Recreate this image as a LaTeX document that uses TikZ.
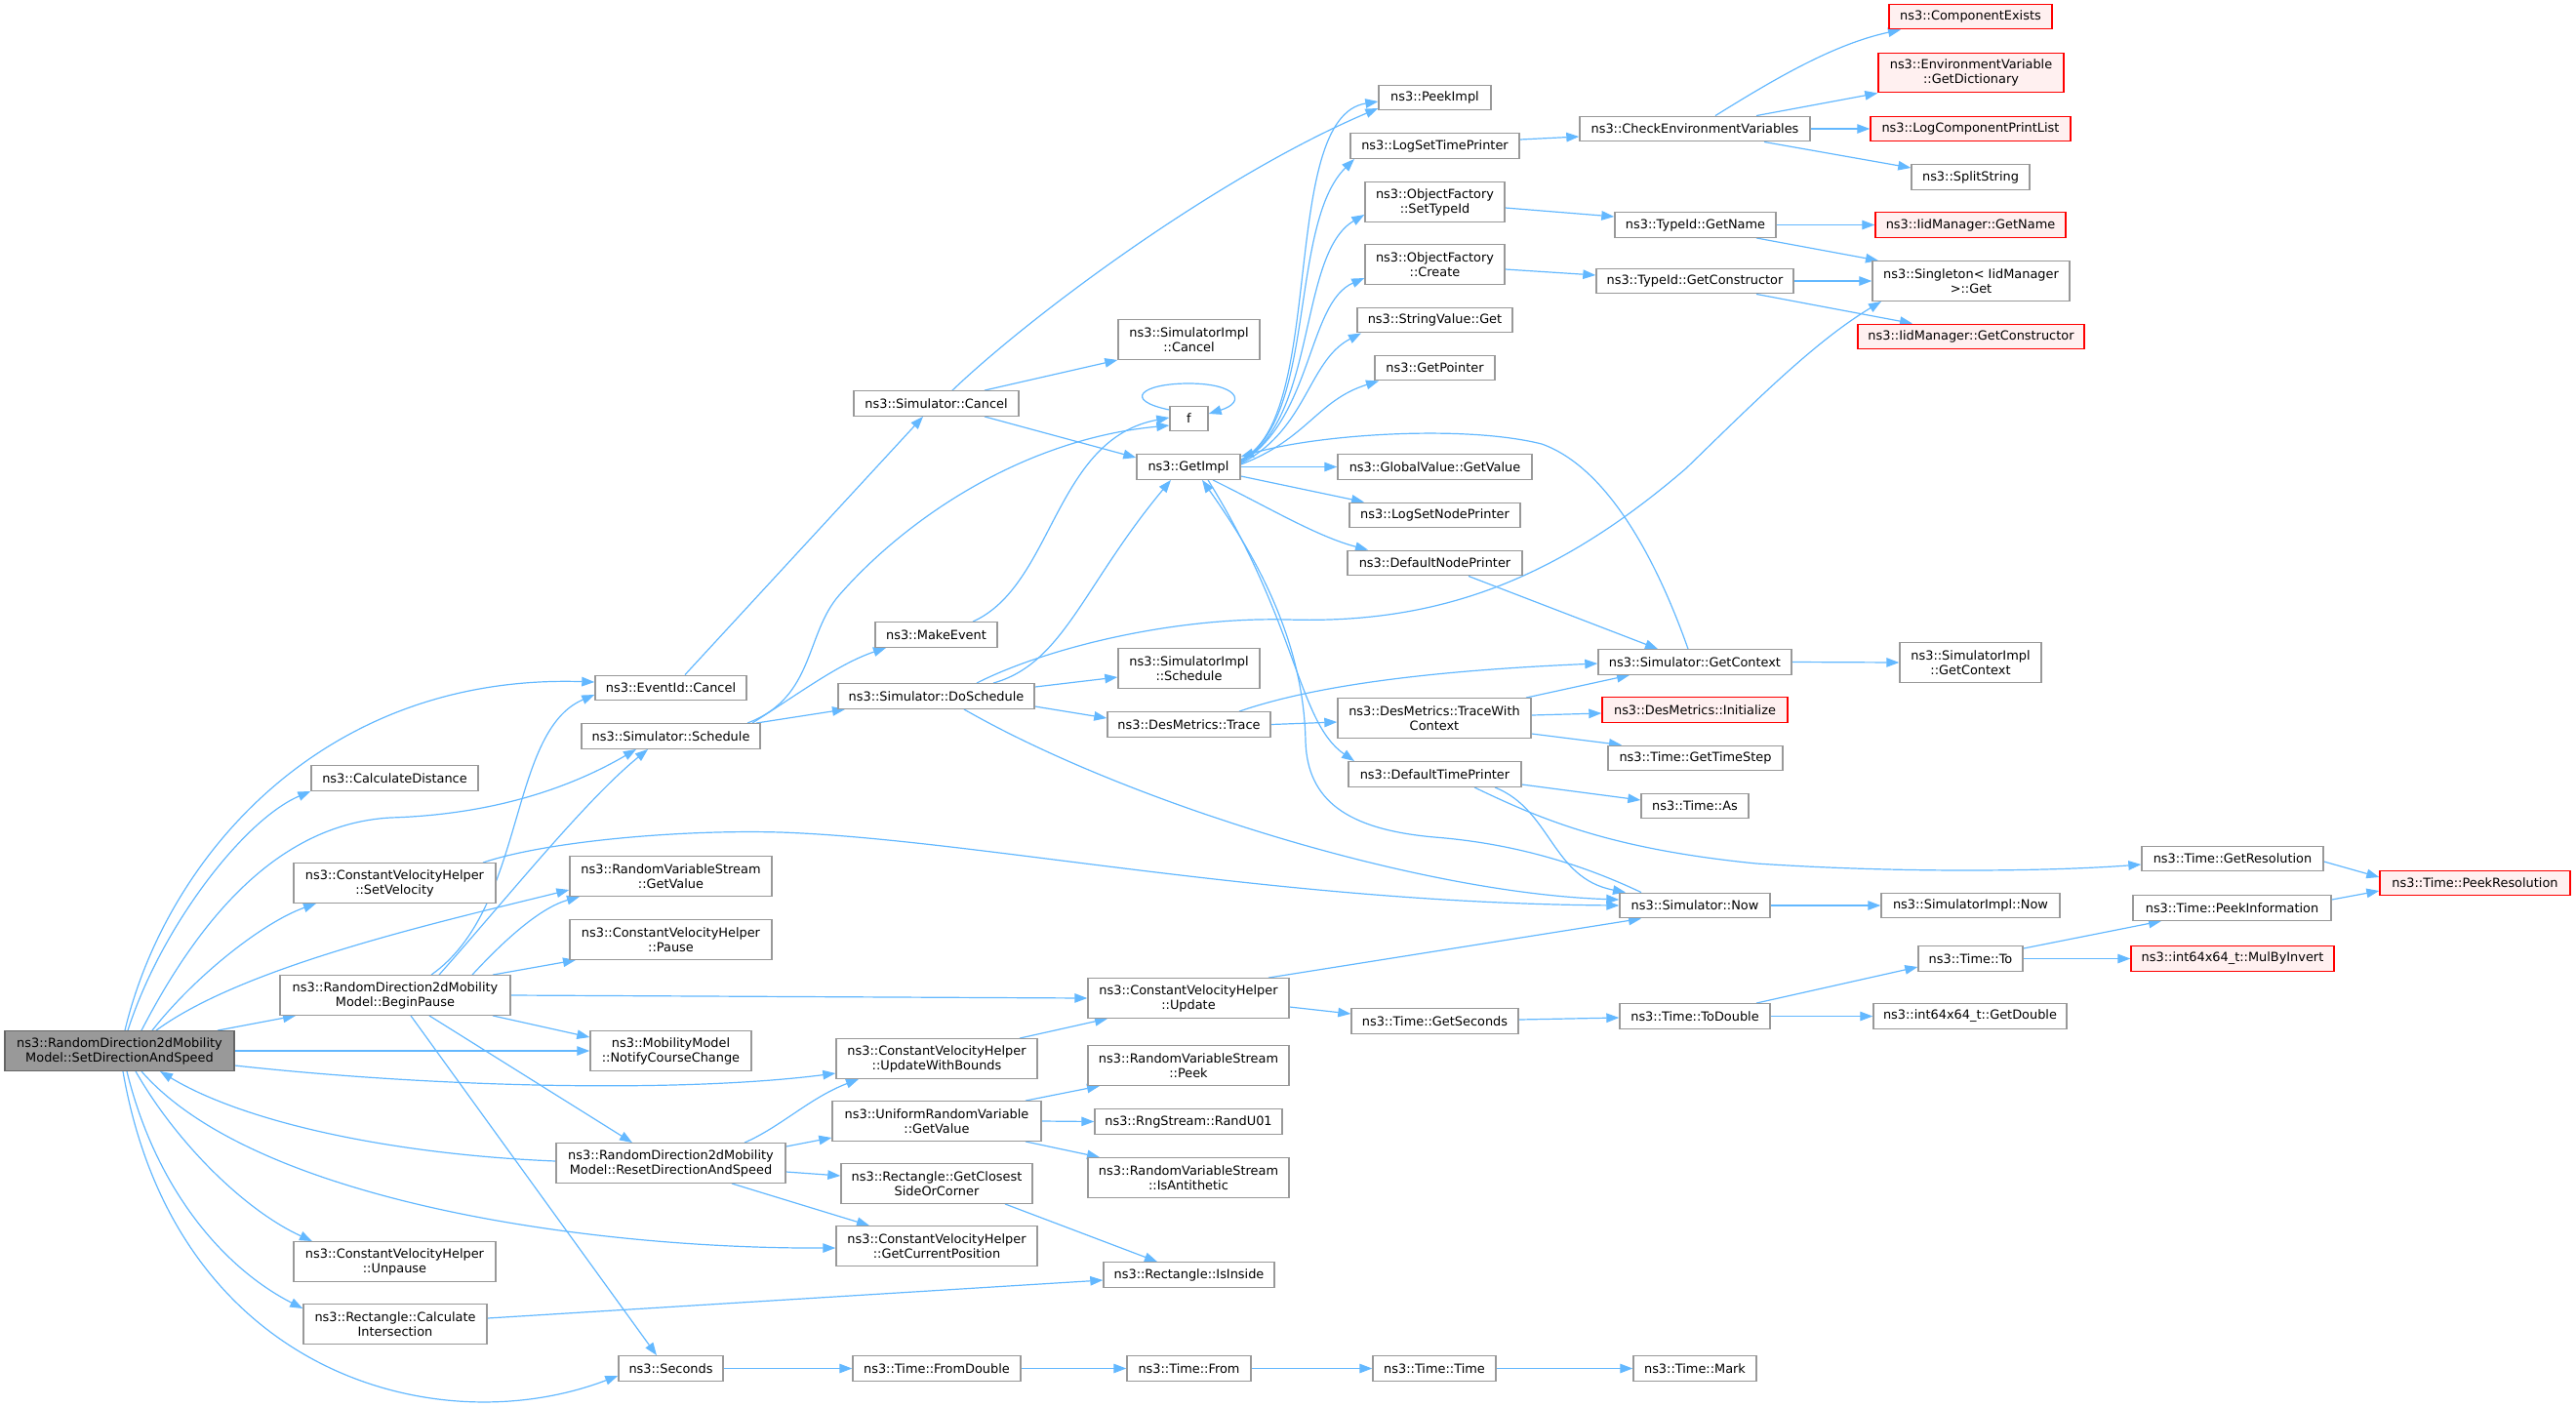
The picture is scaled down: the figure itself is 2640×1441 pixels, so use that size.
\documentclass[tikz,border=0pt]{standalone}
\usepackage{fontspec}
\setmainfont{DejaVu Sans}
\usetikzlibrary{arrows.meta}
\definecolor{edgec}{HTML}{63B8FF}
\definecolor{boxc}{HTML}{999999}
\definecolor{maindraw}{HTML}{666666}
\definecolor{mainfill}{HTML}{999999}
\definecolor{redfill}{HTML}{FFF0F0}
\definecolor{redline}{HTML}{FF0000}
\pgfdeclarelayer{bg}
\pgfsetlayers{bg,main}
\begin{document}
\begin{tikzpicture}[x=1pt,y=-1pt,
 box/.style={draw=boxc, fill=white, line width=1.4pt, inner sep=0pt, align=center, font=\fontsize{12.9}{15}\selectfont, text=black},
 one/.style={box, minimum height=25.5pt, minimum width=#1},
 two/.style={box, minimum height=40.5pt, minimum width=#1},
 redbox/.style={draw=redline, fill=redfill},
 mainbox/.style={draw=maindraw, fill=mainfill},
 ed/.style={draw=edgec, line width=1.2pt, -{Triangle[length=13pt,width=9.5pt]}},
]
\useasboundingbox (0,0) rectangle (2640,1441);

% ---------------- nodes ----------------
\node[two=235pt, mainbox] (sds) at (122.5,1077) {ns3::RandomDirection2dMobility\\Model::SetDirectionAndSpeed};
\node[two=236pt] (bp) at (405,1020) {ns3::RandomDirection2dMobility\\Model::BeginPause};
\node[one=155pt] (ecancel) at (687.5,705) {ns3::EventId::Cancel};
\node[one=183pt] (sched) at (687.5,754.5) {ns3::Simulator::Schedule};
\node[one=171pt] (cdist) at (404.5,797.5) {ns3::CalculateDistance};
\node[two=207pt] (setvel) at (404.5,905) {ns3::ConstantVelocityHelper\\::SetVelocity};
\node[two=207pt] (rvsget) at (687.5,898) {ns3::RandomVariableStream\\::GetValue};
\node[two=207pt] (pause) at (687.5,963) {ns3::ConstantVelocityHelper\\::Pause};
\node[two=165pt] (notify) at (687.5,1077) {ns3::MobilityModel\\::NotifyCourseChange};
\node[two=235pt] (reset) at (687.5,1192) {ns3::RandomDirection2dMobility\\Model::ResetDirectionAndSpeed};
\node[two=207pt] (unpause) at (404.5,1293) {ns3::ConstantVelocityHelper\\::Unpause};
\node[two=188pt] (calcint) at (405,1357) {ns3::Rectangle::Calculate\\Intersection};
\node[one=107pt] (seconds) at (687.5,1402.5) {ns3::Seconds};
\node[one=169pt] (simcancel) at (959.5,413.5) {ns3::Simulator::Cancel};
\node[two=145pt] (implcancel) at (1218.5,348) {ns3::SimulatorImpl\\::Cancel};
\node[one=39pt] (f) at (1218.5,429) {f};
\node[one=106pt] (getimpl) at (1218,478.5) {ns3::GetImpl};
\node[one=125pt] (makeevent) at (959.5,650.5) {ns3::MakeEvent};
\node[one=201pt] (dosched) at (959.5,713.5) {ns3::Simulator::DoSchedule};
\node[two=145pt] (implsched) at (1218.5,685) {ns3::SimulatorImpl\\::Schedule};
\node[one=167pt] (trace) at (1218.5,742.5) {ns3::DesMetrics::Trace};
\node[two=206pt] (update) at (1218,1023) {ns3::ConstantVelocityHelper\\::Update};
\node[two=206pt] (uwb) at (960,1085) {ns3::ConstantVelocityHelper\\::UpdateWithBounds};
\node[two=214pt] (urv) at (960,1149) {ns3::UniformRandomVariable\\::GetValue};
\node[two=206pt] (peek) at (1218,1092) {ns3::RandomVariableStream\\::Peek};
\node[one=192pt] (randu) at (1218,1149.5) {ns3::RngStream::RandU01};
\node[two=206pt] (anti) at (1218,1207) {ns3::RandomVariableStream\\::IsAntithetic};
\node[two=196pt] (closest) at (960,1213) {ns3::Rectangle::GetClosest\\SideOrCorner};
\node[two=206pt] (curpos) at (960,1277) {ns3::ConstantVelocityHelper\\::GetCurrentPosition};
\node[one=175pt] (inside) at (1218.5,1306.5) {ns3::Rectangle::IsInside};
\node[one=172pt] (fromdbl) at (960,1402.5) {ns3::Time::FromDouble};
\node[one=127pt] (from) at (1218.5,1402.5) {ns3::Time::From};
\node[one=126pt] (ttime) at (1470,1402.5) {ns3::Time::Time};
\node[one=126pt] (mark) at (1737,1402.5) {ns3::Time::Mark};
\node[one=115pt] (peekimpl) at (1470.5,100) {ns3::PeekImpl};
\node[one=173pt] (logtime) at (1470.5,149.5) {ns3::LogSetTimePrinter};
\node[two=143pt] (settype) at (1470.5,207) {ns3::ObjectFactory\\::SetTypeId};
\node[two=143pt] (create) at (1470.5,271) {ns3::ObjectFactory\\::Create};
\node[one=159pt] (strget) at (1470.5,328) {ns3::StringValue::Get};
\node[one=123pt] (getptr) at (1470.5,377) {ns3::GetPointer};
\node[one=199pt] (globval) at (1470.5,478.5) {ns3::GlobalValue::GetValue};
\node[one=175pt] (lognode) at (1470.5,528) {ns3::LogSetNodePrinter};
\node[one=179pt] (defnode) at (1470.5,577) {ns3::DefaultNodePrinter};
\node[two=198pt] (twc) at (1470,736) {ns3::DesMetrics::TraceWith\\Context};
\node[one=177pt] (deftime) at (1470.5,793.5) {ns3::DefaultTimePrinter};
\node[one=171pt] (getsec) at (1470.5,1046.5) {ns3::Time::GetSeconds};
\node[one=236pt] (checkenv) at (1737,132) {ns3::CheckEnvironmentVariables};
\node[one=165pt] (tgetname) at (1737.5,230.5) {ns3::TypeId::GetName};
\node[one=202pt] (tgetctor) at (1737,288) {ns3::TypeId::GetConstructor};
\node[one=198pt] (getctx) at (1737,678.5) {ns3::Simulator::GetContext};
\node[one=190pt, redbox] (init) at (1737,727.5) {ns3::DesMetrics::Initialize};
\node[one=179pt] (timestep) at (1737.5,777) {ns3::Time::GetTimeStep};
\node[one=110pt] (tas) at (1737,826) {ns3::Time::As};
\node[one=154pt] (now) at (1737,928) {ns3::Simulator::Now};
\node[one=154pt] (todbl) at (1737,1041.5) {ns3::Time::ToDouble};
\node[one=167pt, redbox] (compex) at (2019.5,17) {ns3::ComponentExists};
\node[two=190pt, redbox] (getdict) at (2020,74.5) {ns3::EnvironmentVariable\\::GetDictionary};
\node[one=205pt, redbox] (logcpl) at (2019.5,132) {ns3::LogComponentPrintList};
\node[one=121pt] (split) at (2019.5,181.5) {ns3::SplitString};
\node[one=195pt, redbox] (iidname) at (2019.5,230.5) {ns3::IidManager::GetName};
\node[two=202pt] (singleton) at (2020,288) {ns3::Singleton< IidManager\\>::Get};
\node[one=232pt, redbox] (iidctor) at (2020,345) {ns3::IidManager::GetConstructor};
\node[two=145pt] (implctx) at (2019.5,679) {ns3::SimulatorImpl\\::GetContext};
\node[one=183pt] (implnow) at (2019.5,928) {ns3::SimulatorImpl::Now};
\node[one=107pt] (tto) at (2019.5,982.5) {ns3::Time::To};
\node[one=198pt] (getdbl) at (2019,1041.5) {ns3::int64x64\_t::GetDouble};
\node[one=186pt] (getres) at (2288,880) {ns3::Time::GetResolution};
\node[one=203pt] (peekinfo) at (2287.5,930.5) {ns3::Time::PeekInformation};
\node[one=208pt, redbox] (mulinv) at (2288,982.5) {ns3::int64x64\_t::MulByInvert};
\node[one=195pt, redbox] (peekres) at (2536.5,905) {ns3::Time::PeekResolution};

% ---------------- edges ----------------
\begin{pgfonlayer}{bg}
% from SetDirectionAndSpeed
\draw[ed] (sds.north -| 128,0) .. controls (170,880) and (330,690) .. (ecancel.west |- 0,699);
\draw[ed] (sds.north -| 131,0) .. controls (165,950) and (250,840) .. (cdist.south west);
\draw[ed] (sds.north -| 145,0) .. controls (200,950) and (280,845) .. (400,838) .. controls (500,835) and (580,810) .. (sched.south -| 652,0);
\draw[ed] (sds.north -| 156,0) .. controls (200,1000) and (270,945) .. (setvel.south -| 324,0);
\draw[ed] (sds.north -| 160,0) .. controls (250,990) and (450,945) .. (rvsget.west |- 0,912);
\draw[ed] (sds.north -| 223,0) -- (bp.south -| 303,0);
\draw[ed] (sds.east) -- (notify.west);
\draw[ed] (sds.east |- 0,1092) .. controls (450,1115) and (700,1120) .. (uwb.west |- 0,1100);
\draw[ed] (reset.west |- 0,1190) .. controls (400,1183) and (250,1150) .. (sds.south -| 164,0);
\draw[ed] (sds.south -| 145,0) .. controls (260,1230) and (600,1280) .. (curpos.west |- 0,1279);
\draw[ed] (sds.south -| 139,0) .. controls (180,1170) and (250,1240) .. (unpause.north -| 320,0);
\draw[ed] (sds.south -| 130,0) .. controls (160,1220) and (230,1300) .. (calcint.west |- 0,1341);
\draw[ed] (sds.south -| 126,0) .. controls (180,1410) and (450,1480) .. (seconds.west |- 0,1410);
% from BeginPause
\draw[ed] (bp.north -| 442,0) .. controls (540,930) and (520,750) .. (ecancel.west |- 0,712);
\draw[ed] (bp.north -| 450,0) .. controls (520,920) and (600,820) .. (sched.south -| 664,0);
\draw[ed] (bp.north -| 484,0) .. controls (520,960) and (555,930) .. (rvsget.south -| 594,0);
\draw[ed] (bp.north -| 505,0) -- (pause.south -| 590,0);
\draw[ed] (bp.east) -- (update.west);
\draw[ed] (bp.south -| 505,0) -- (notify.west |- 0,1063);
\draw[ed] (bp.south -| 440,0) -- (reset.north -| 648,0);
\draw[ed] (bp.south -| 421,0) -- (seconds.north -| 673,0);
% cancel chain
\draw[ed] (ecancel.north -| 702,0) -- (simcancel.south -| 946,0);
\draw[ed] (simcancel.north -| 1009,0) -- (implcancel.south west);
\draw[ed] (simcancel.south -| 1009,0) -- (getimpl.west |- 0,469);
\draw[ed] (simcancel.north -| 976,0) .. controls (1060,320) and (1250,180) .. (peekimpl.west |- 0,111);
% schedule
\draw[ed] (sched.north -| 775,0) -- (dosched.south -| 866,0);
\draw[ed] (sched.north -| 771,0) .. controls (820,710) and (860,680) .. (makeevent.south -| 908,0);
\draw[ed] (sched.north -| 766,0) .. controls (835,715) and (825,650) .. (860,610) .. controls (930,530) and (1050,450) .. (f.west |- 0,436);
\draw[ed] (makeevent.north -| 997,0) .. controls (1080,600) and (1080,450) .. (f.west |- 0,428);
\draw[ed] (f.west |- 0,420) .. controls (1150,410) and (1170,393) .. (1218,393) .. controls (1268,393) and (1278,412) .. (f.east |- 0,424);
% DoSchedule
\draw[ed] (dosched.north -| 1018,0) .. controls (1090,680) and (1110,600) .. (getimpl.south -| 1200,0);
\draw[ed] (dosched.north -| 1001,0) .. controls (1070,665) and (1200,632) .. (1320,635) .. controls (1480,640) and (1600,590) .. (1728,480) .. controls (1800,410) and (1860,350) .. (singleton.south -| 1928,0);
\draw[ed] (dosched.east |- 0,704) -- (implsched.west |- 0,694);
\draw[ed] (dosched.east |- 0,724) -- (trace.west |- 0,736);
\draw[ed] (dosched.south -| 988,0) .. controls (1150,820) and (1450,915) .. (now.west |- 0,922);
% SetVelocity
\draw[ed] (setvel.north -| 495,0) .. controls (560,862) and (700,850) .. (800,853) .. controls (1000,860) and (1300,925) .. (now.west |- 0,928);
% lower middle
\draw[ed] (update.north -| 1300,0) -- (now.south -| 1682,0);
\draw[ed] (uwb.north -| 1045,0) -- (update.south -| 1135,0);
\draw[ed] (reset.north -| 763,0) .. controls (800,1155) and (830,1125) .. (uwb.south -| 880,0);
\draw[ed] (reset.east |- 0,1175) -- (urv.west |- 0,1166);
\draw[ed] (reset.east |- 0,1201) -- (closest.west |- 0,1205);
\draw[ed] (reset.south -| 750,0) -- (curpos.north -| 891,0);
\draw[ed] (urv.north -| 1051,0) -- (peek.south -| 1127,0);
\draw[ed] (urv.east) -- (randu.west);
\draw[ed] (urv.south -| 1051,0) -- (anti.north -| 1127,0);
\draw[ed] (closest.south -| 1030,0) -- (inside.north -| 1186,0);
\draw[ed] (calcint.east |- 0,1351) -- (inside.west |- 0,1312);
\draw[ed] (seconds.east) -- (fromdbl.west);
\draw[ed] (fromdbl.east) -- (from.west);
\draw[ed] (from.east) -- (ttime.west);
\draw[ed] (ttime.east) -- (mark.west);
% GetImpl fan
\draw[ed] (getimpl.east |- 0,471) .. controls (1360,430) and (1310,120) .. (peekimpl.west |- 0,104);
\draw[ed] (getimpl.east |- 0,472) .. controls (1350,430) and (1320,230) .. (logtime.south -| 1388,0);
\draw[ed] (getimpl.east |- 0,473) .. controls (1350,430) and (1330,260) .. (settype.west |- 0,220);
\draw[ed] (getimpl.east |- 0,474) .. controls (1345,430) and (1340,310) .. (create.west |- 0,285);
\draw[ed] (getimpl.east |- 0,475) .. controls (1340,440) and (1340,370) .. (strget.south -| 1395,0);
\draw[ed] (getimpl.east |- 0,476) .. controls (1340,450) and (1350,410) .. (getptr.south -| 1413,0);
\draw[ed] (getimpl.east) -- (globval.west);
\draw[ed] (getimpl.east |- 0,488) -- (lognode.north -| 1398,0);
\draw[ed] (getimpl.south -| 1243,0) .. controls (1300,520) and (1350,550) .. (defnode.north -| 1402,0);
\draw[ed] (getimpl.south -| 1238,0) .. controls (1330,640) and (1330,740) .. (deftime.north -| 1388,0);
\draw[ed] (now.north -| 1682,0) .. controls (1630,890) and (1560,865) .. (1470,858) .. controls (1380,850) and (1340,820) .. (1338,760) .. controls (1336,650) and (1280,560) .. (getimpl.south -| 1232,0);
\draw[ed] (getctx.north -| 1730,0) .. controls (1700,580) and (1650,480) .. (1580,455) .. controls (1500,435) and (1350,445) .. (getimpl.east |- 0,468);
% context / metrics
\draw[ed] (defnode.south -| 1505,0) -- (getctx.north -| 1699,0);
\draw[ed] (trace.north -| 1270,0) .. controls (1340,705) and (1450,688) .. (getctx.west |- 0,680);
\draw[ed] (trace.east) -- (twc.west |- 0,740);
\draw[ed] (twc.north -| 1564,0) -- (getctx.south -| 1670,0);
\draw[ed] (twc.east |- 0,733) -- (init.west |- 0,731);
\draw[ed] (twc.east |- 0,752) -- (timestep.north -| 1662,0);
\draw[ed] (getctx.east) -- (implctx.west |- 0,679);
\draw[ed] (deftime.east |- 0,804) -- (tas.west |- 0,820);
\draw[ed] (deftime.south -| 1532,0) .. controls (1590,830) and (1590,900) .. (now.north -| 1666,0);
\draw[ed] (deftime.south -| 1511,0) .. controls (1580,840) and (1650,870) .. (1800,885) .. controls (1950,895) and (2100,893) .. (getres.west |- 0,886);
\draw[ed] (now.east) -- (implnow.west);
\draw[ed] (getres.east |- 0,883) -- (peekres.west |- 0,899);
\draw[ed] (peekinfo.east |- 0,922) -- (peekres.west |- 0,913);
\draw[ed] (tto.east |- 0,972) -- (peekinfo.south -| 2215,0);
\draw[ed] (tto.east) -- (mulinv.west);
\draw[ed] (todbl.north -| 1800,0) -- (tto.west |- 0,991);
\draw[ed] (todbl.east) -- (getdbl.west);
\draw[ed] (update.east |- 0,1032) -- (getsec.west |- 0,1039);
\draw[ed] (getsec.east |- 0,1045) -- (todbl.west |- 0,1043);
% top right
\draw[ed] (logtime.east |- 0,143) -- (checkenv.west |- 0,140);
\draw[ed] (checkenv.north -| 1758,0) .. controls (1820,80) and (1880,45) .. (compex.south -| 1948,0);
\draw[ed] (checkenv.north -| 1800,0) -- (getdict.south west);
\draw[ed] (checkenv.east) -- (logcpl.west);
\draw[ed] (checkenv.south -| 1808,0) -- (split.west |- 0,172);
\draw[ed] (settype.east |- 0,213) -- (tgetname.west |- 0,222);
\draw[ed] (tgetname.east) -- (iidname.west);
\draw[ed] (tgetname.south -| 1800,0) -- (singleton.north -| 1925,0);
\draw[ed] (create.east |- 0,276) -- (tgetctor.west |- 0,282);
\draw[ed] (tgetctor.east) -- (singleton.west);
\draw[ed] (tgetctor.south -| 1800,0) -- (iidctor.north -| 1960,0);
\end{pgfonlayer}
\end{tikzpicture}
\end{document}
